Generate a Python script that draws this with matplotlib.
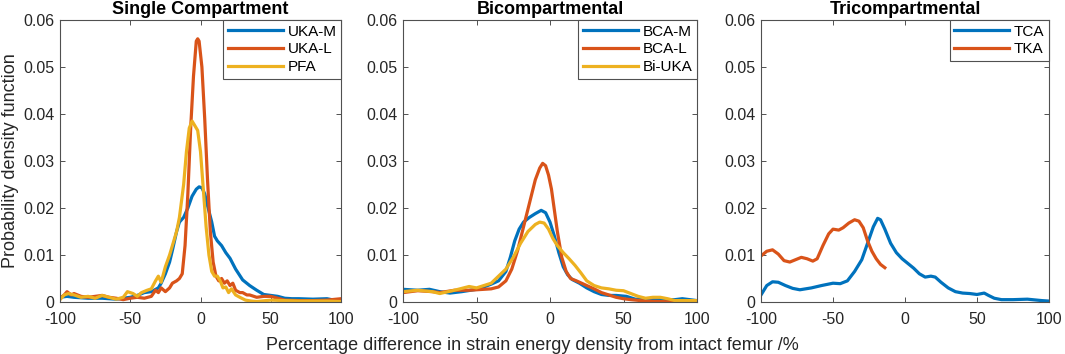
import matplotlib
matplotlib.use("Agg")
import matplotlib.pyplot as plt

plt.rcParams["font.family"] = ["Liberation Sans", "DejaVu Sans"]
plt.rcParams["axes.unicode_minus"] = False

# --- Single compartment ---
uka_m_x = [-100, -95, -90, -80, -70, -60, -50, -45, -40, -35, -30, -28, -25, -22, -20,
           -17, -15, -12, -9, -6, -3, -1, 1, 3, 5, 8, 10, 12, 15, 18, 21, 25, 30, 35,
           40, 45, 50, 55, 60, 65, 70, 80, 90, 95, 100]
uka_m_y = [0.0010, 0.0012, 0.0010, 0.0008, 0.0008, 0.0006, 0.0010, 0.0014, 0.0020, 0.0022,
           0.0030, 0.0040, 0.0060, 0.0085, 0.0110, 0.0150, 0.0170, 0.0180, 0.0200, 0.0225,
           0.0240, 0.0245, 0.0243, 0.0230, 0.0205, 0.0170, 0.0140, 0.0130, 0.0120, 0.0105,
           0.0093, 0.0070, 0.0047, 0.0035, 0.0025, 0.0016, 0.0014, 0.0012, 0.0008, 0.0007,
           0.0007, 0.0006, 0.0007, 0.0004, 0.0001]

uka_l_x = [-100, -97, -95, -92, -90, -85, -80, -75, -70, -65, -60, -55, -50, -45, -40, -35,
           -32, -30, -28, -25, -22, -20, -17, -15, -13, -11, -9, -7, -5, -3, -2, -1, 1, 3, 5,
           7, 9, 11, 13, 15, 17, 19, 21, 23, 25, 28, 30, 33, 35, 40, 45, 50, 55, 60, 70, 80,
           90, 100]
uka_l_y = [0.0008, 0.0015, 0.0022, 0.0015, 0.0018, 0.0012, 0.0010, 0.0012, 0.0014, 0.0010,
           0.0008, 0.0005, 0.0008, 0.0010, 0.0008, 0.0012, 0.0025, 0.0020, 0.0030, 0.0022,
           0.0030, 0.0040, 0.0045, 0.0050, 0.0060, 0.0120, 0.0230, 0.0370, 0.0480, 0.0555,
           0.0560, 0.0555, 0.0500, 0.0390, 0.0260, 0.0150, 0.0085, 0.0055, 0.0045, 0.0050,
           0.0040, 0.0045, 0.0035, 0.0040, 0.0025, 0.0020, 0.0020, 0.0015, 0.0015, 0.0010,
           0.0012, 0.0012, 0.0008, 0.0004, 0.0003, 0.0003, 0.0004, 0.0007]

pfa_x = [-100, -97, -94, -90, -85, -80, -75, -70, -65, -60, -55, -52, -48, -45, -42, -38,
         -35, -32, -30, -28, -25, -22, -20, -17, -15, -12, -10, -8, -6, -4, -2, 0, 2, 4,
         6, 8, 10, 12, 14, 16, 18, 20, 22, 25, 28, 32, 36, 40, 50, 60, 70, 80, 90, 100]
pfa_y = [0.0005, 0.0015, 0.0018, 0.0015, 0.0010, 0.0012, 0.0008, 0.0014, 0.0010, 0.0006,
         0.0010, 0.0022, 0.0018, 0.0012, 0.0020, 0.0025, 0.0028, 0.0045, 0.0055, 0.0042,
         0.0075, 0.0100, 0.0120, 0.0150, 0.0180, 0.0250, 0.0320, 0.0370, 0.0385, 0.0375,
         0.0365, 0.0320, 0.0240, 0.0160, 0.0100, 0.0065, 0.0055, 0.0055, 0.0045, 0.0030,
         0.0032, 0.0020, 0.0028, 0.0015, 0.0010, 0.0004, 0.0002, 0.0001, 0.0004, 0.0003,
         0.0002, 0.0002, 0.0002, 0.0001]

# --- Bicompartmental ---
bca_m_x = [-100, -90, -82, -75, -68, -60, -50, -45, -40, -35, -30, -27, -24, -21, -18, -14,
           -10, -6, -3, 0, 3, 6, 9, 12, 15, 20, 25, 30, 35, 40, 45, 52, 58, 65, 75, 85,
           90, 100]
bca_m_y = [0.0027, 0.0025, 0.0027, 0.0022, 0.0019, 0.0022, 0.0027, 0.0032, 0.0038, 0.0045,
           0.0065, 0.0095, 0.0130, 0.0155, 0.0170, 0.0180, 0.0188, 0.0195, 0.0190, 0.0170,
           0.0140, 0.0105, 0.0075, 0.0058, 0.0048, 0.0040, 0.0030, 0.0022, 0.0016, 0.0014,
           0.0014, 0.0012, 0.0006, 0.0006, 0.0005, 0.0005, 0.0007, 0.0003]

bca_l_x = [-100, -90, -80, -75, -65, -55, -45, -40, -35, -30, -26, -22, -18, -14, -10, -7,
           -5, -3, -1, 1, 3, 5, 8, 11, 14, 18, 25, 30, 35, 40, 45, 50, 55, 65, 75, 85, 100]
bca_l_y = [0.0020, 0.0024, 0.0022, 0.0020, 0.0025, 0.0025, 0.0027, 0.0028, 0.0032, 0.0045,
           0.0070, 0.0110, 0.0160, 0.0210, 0.0260, 0.0285, 0.0295, 0.0290, 0.0270, 0.0240,
           0.0195, 0.0150, 0.0095, 0.0065, 0.0050, 0.0045, 0.0035, 0.0028, 0.0020, 0.0015,
           0.0010, 0.0007, 0.0005, 0.0002, 0.0001, 0.0000, 0.0002]

bi_uka_x = [-100, -90, -80, -75, -65, -55, -50, -45, -40, -35, -30, -25, -20, -15, -10, -7,
            -4, -1, 2, 5, 9, 13, 17, 21, 25, 30, 35, 40, 45, 50, 55, 60, 65, 70, 75, 80,
            85, 100]
bi_uka_y = [0.0022, 0.0025, 0.0022, 0.0018, 0.0025, 0.0033, 0.0030, 0.0035, 0.0040, 0.0055,
            0.0070, 0.0095, 0.0125, 0.0150, 0.0165, 0.0170, 0.0168, 0.0155, 0.0135, 0.0120,
            0.0105, 0.0092, 0.0078, 0.0062, 0.0045, 0.0035, 0.0030, 0.0028, 0.0025, 0.0024,
            0.0018, 0.0012, 0.0008, 0.0010, 0.0010, 0.0007, 0.0003, 0.0003]

# --- Tricompartmental ---
tca_x = [-100, -96, -92, -88, -83, -78, -73, -65, -58, -50, -45, -40, -35, -30, -26, -22,
         -19, -17, -14, -10, -6, -2, 2, 6, 10, 14, 18, 21, 25, 30, 35, 40, 45, 50, 55, 58,
         62, 67, 75, 85, 95, 100]
tca_y = [0.0015, 0.0035, 0.0043, 0.0042, 0.0035, 0.0029, 0.0026, 0.0030, 0.0035, 0.0040,
         0.0039, 0.0045, 0.0065, 0.0090, 0.0125, 0.0160, 0.0178, 0.0175, 0.0155, 0.0125,
         0.0105, 0.0092, 0.0082, 0.0072, 0.0060, 0.0053, 0.0055, 0.0053, 0.0042, 0.0030,
         0.0022, 0.0019, 0.0018, 0.0016, 0.0019, 0.0014, 0.0008, 0.0005, 0.0005, 0.0006,
         0.0003, 0.0002]

tka_x = [-100, -96, -92, -88, -84, -80, -76, -72, -68, -64, -61, -57, -53, -50, -46, -43,
         -39, -35, -32, -29, -26, -23, -20, -17, -14]
tka_y = [0.0098, 0.0108, 0.0111, 0.0102, 0.0088, 0.0085, 0.0090, 0.0095, 0.0092, 0.0087,
         0.0092, 0.0120, 0.0145, 0.0155, 0.0153, 0.0158, 0.0168, 0.0175, 0.0172, 0.0158,
         0.0130, 0.0108, 0.0092, 0.0080, 0.0073]

blue, red, yellow = "#0072BD", "#D95319", "#EDB120"
ink = "#262626"
edge = "#505050"

panels = [
    ("Single Compartment", [(uka_m_x, uka_m_y, blue, "UKA-M"),
                            (uka_l_x, uka_l_y, red, "UKA-L"),
                            (pfa_x, pfa_y, yellow, "PFA")]),
    ("Bicompartmental", [(bca_m_x, bca_m_y, blue, "BCA-M"),
                         (bca_l_x, bca_l_y, red, "BCA-L"),
                         (bi_uka_x, bi_uka_y, yellow, "Bi-UKA")]),
    ("Tricompartmental", [(tca_x, tca_y, blue, "TCA"),
                          (tka_x, tka_y, red, "TKA")]),
]

boxes = [
    [60 / 1065, 52 / 354, 281 / 1065, 282 / 354],
    [403 / 1065, 52 / 354, 294 / 1065, 282 / 354],
    [761 / 1065, 52 / 354, 288 / 1065, 282 / 354],
]

fig = plt.figure(figsize=(10.65, 3.54), dpi=100)

for i, (box, (title, series)) in enumerate(zip(boxes, panels)):
    ax = fig.add_axes(box)
    for xs, ys, color, label in series:
        ax.plot(xs, ys, color=color, linewidth=2.3, label=label)
    ax.set_xlim(-100, 100)
    ax.set_ylim(0, 0.06)
    ax.set_xticks([-100, -50, 0, 50, 100])
    ax.set_yticks([0, 0.01, 0.02, 0.03, 0.04, 0.05, 0.06])
    ax.set_yticklabels(["0", "0.01", "0.02", "0.03", "0.04", "0.05", "0.06"])
    ax.tick_params(direction="in", top=True, right=True, labelsize=11.5,
                   labelcolor=ink, color=edge, length=3.5, width=0.7)
    ax.tick_params(axis="x", pad=7)
    ax.tick_params(axis="y", pad=4)
    for sp in ax.spines.values():
        sp.set_color(edge)
        sp.set_linewidth(0.8)
    ax.set_title(title, fontsize=13, fontweight="bold", pad=4)
    leg = ax.legend(loc="upper right", fontsize=11, handlelength=3.6,
                    fancybox=False, framealpha=1, borderaxespad=0,
                    borderpad=0.3, labelspacing=0.25, handletextpad=0.3)
    leg.get_frame().set_edgecolor(edge)
    leg.get_frame().set_linewidth(0.8)
    if i == 0:
        ax.set_ylabel("Probability density function", fontsize=13, color=ink, labelpad=3)

fig.text(0.5, 4 / 354, "Percentage difference in strain energy density from intact femur /%",
         ha="center", va="baseline", fontsize=13, color=ink)

fig.savefig("out.png", dpi=100)
